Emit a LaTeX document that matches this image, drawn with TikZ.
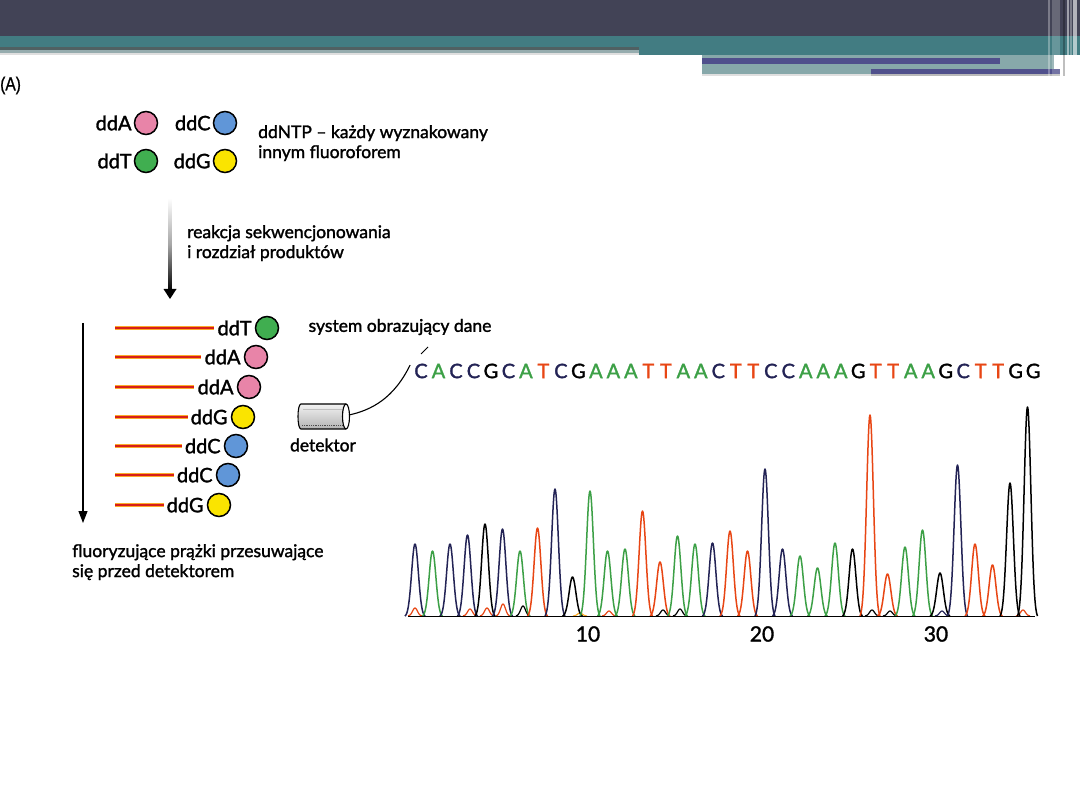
\documentclass[tikz,border=0pt]{standalone}
\usepackage{fontspec}
\setmainfont{Lato}
\newfontfamily\lato[FakeBold=1.5,Ligatures=TeX]{Lato}
\newfontfamily\arialf[FakeBold=1]{Liberation Sans}
\usetikzlibrary{arrows.meta}
\definecolor{hdark}{RGB}{66,67,86}
\definecolor{hteal}{RGB}{66,124,130}
\definecolor{lteal}{RGB}{135,168,170}
\definecolor{hpurp}{RGB}{80,80,140}
\definecolor{gstrA}{RGB}{80,96,98}
\definecolor{gstrB}{RGB}{150,172,174}
\definecolor{pinkc}{RGB}{232,132,168}
\definecolor{bluec}{RGB}{96,150,216}
\definecolor{greenc}{RGB}{64,174,80}
\definecolor{yellowc}{RGB}{250,228,0}
\definecolor{colA}{RGB}{60,160,70}
\definecolor{colT}{RGB}{232,70,20}
\definecolor{colC}{RGB}{35,35,85}
\definecolor{colG}{RGB}{0,0,0}
\definecolor{bandred}{RGB}{215,30,25}
\definecolor{bandorg}{RGB}{250,170,40}
\tikzset{
  lbl/.style={inner sep=0pt, font=\lato\fontsize{17.5}{20}\selectfont},
  ddl/.style={inner sep=0pt, font=\lato\fontsize{20}{20}\selectfont},
  multi/.style={inner sep=0pt, align=left, font=\lato\fontsize{17.5}{20}\selectfont},
  dot/.style={circle, draw=black, line width=1.5pt, minimum size=23pt, inner sep=0pt},
  bandO/.style={bandorg, line width=3.6pt},
  bandR/.style={bandred, line width=1.8pt},
  seqc/.style={inner sep=0pt, font=\lato\fontsize{20}{20}\selectfont},
  axl/.style={inner sep=0pt, font=\lato\fontsize{21}{21}\selectfont},
  peak/.style={line width=1.5pt, line join=round},
}
\begin{document}
\begin{tikzpicture}[x=1pt,y=-1pt]
\useasboundingbox (0,0) rectangle (1080,810);
\fill[white] (0,0) rectangle (1080,810);
% header
\fill[hdark] (0,0) rectangle (1080,36);
\fill[hteal] (0,36) rectangle (1080,47);
\fill[hteal] (639,47) rectangle (1080,55);
\fill[gstrA] (0,47) rectangle (639,50);
\fill[gstrB] (0,50) rectangle (639,53);
\fill[gray!25] (0,53) rectangle (639,55);
\fill[lteal] (702,55) rectangle (1054,74);
\fill[hpurp] (702,58) rectangle (1000,64);
\fill[hpurp] (871,69) rectangle (1060,74);
\fill[gray!55] (871,74) rectangle (1060,76);
\fill[gray!25] (702,74) rectangle (871,76);
\fill[white,opacity=0.3] (1048,0) rectangle (1049.5,76);
\fill[white,opacity=0.2] (1052,0) rectangle (1060,76);
\fill[black,opacity=0.25] (1063,0) rectangle (1065,76);
\fill[white,opacity=0.5] (1067,0) rectangle (1069,76);
\fill[white,opacity=0.3] (1070,0) rectangle (1072,76);
\fill[white,opacity=0.6] (1073,0) rectangle (1077,76);
\node[anchor=west, inner sep=0pt, xscale=0.82, font=\arialf\fontsize{19}{19}\selectfont] (lblA) at (0,85.5) {(A)};

% legend
\node[dot, fill=pinkc] (cA) at (146,123) {};
\node[dot, fill=bluec] (cC) at (225,123) {};
\node[dot, fill=greenc] (cT) at (146,161) {};
\node[dot, fill=yellowc] (cG) at (225,161) {};
\node[ddl, anchor=east] (tA) at ([xshift=-2pt]cA.west) {ddA};
\node[ddl, anchor=east] (tC) at ([xshift=-2pt]cC.west) {ddC};
\node[ddl, anchor=east] (tT) at ([xshift=-2pt]cT.west) {ddT};
\node[ddl, anchor=east] (tG) at ([xshift=-2pt]cG.west) {ddG};
\node[multi, anchor=north west] (ddntp) at (258,125) {ddNTP – każdy wyznakowany\\innym fluoroforem};

% gradient arrow
\coordinate (gtop) at (170,198);
\coordinate (gbot) at (170,299);
\shade[top color=white, bottom color=black, middle color=gray!70] (168.5,198) rectangle (171.5,291);
\fill[black] (163.5,289) -- (176.5,289) -- (gbot) -- cycle;
\node[multi, anchor=north west] (reak) at (187,225) {reakcja sekwencjonowania\\i rozdział produktów};

% migration arrow
\coordinate (m1) at (83,323);
\coordinate (m2) at (83,523);
\draw[line width=1.2pt, -{Triangle[length=12pt,width=9pt]}] (m1) -- (m2);

% bands
\foreach \n/\x/\y/\c/\t in {1/267/328/greenc/ddT, 2/256/357/pinkc/ddA, 3/249/387/pinkc/ddA, 4/243/417/yellowc/ddG, 5/236/446/bluec/ddC, 6/228/475/bluec/ddC, 7/219/505/yellowc/ddG}{
  \node[dot, fill=\c] (b\n) at (\x,\y) {};
  \node[ddl, anchor=east] (bt\n) at ([xshift=-3pt]b\n.west) {\t};
  \coordinate (bs\n) at (115,\y);
  \draw[bandO] (bs\n) -- ([xshift=-3pt]bt\n.west);
  \draw[bandR] (bs\n) -- ([xshift=-3pt]bt\n.west);
}
\node[multi, anchor=north west] (fluo) at (72,544) {fluoryzujące prążki przesuwające\\się przed detektorem};

% detector
\shade[top color=gray!10, bottom color=gray!60] (346,404) -- (301,404) .. controls (297,404) and (297,429) .. (301,429) -- (346,429) -- cycle;
\draw[gray!60!black, line width=1.6pt, dash pattern=on 1pt off 0.8pt] (302,425.5) -- (343,425.5);
\draw[gray!50, line width=0.8pt] (303,409) -- (343,409);
\draw[line width=1.1pt] (346,404) -- (301,404) .. controls (297,404) and (297,429) .. (301,429) -- (346,429);
\draw[line width=1.1pt, fill=white] (346,416.5) ellipse (3.5pt and 12.5pt);
\coordinate (detR) at (349,415);
\node[lbl] (detl) at (323,445) {detektor};

% sequence
\foreach \l [count=\i] in {C,A,C,C,G,C,A,T,C,G,A,A,A,T,T,A,A,C,T,T,C,C,A,A,A,G,T,T,A,A,G,C,T,T,G,G}{
  \node[seqc, text=col\l] (s\i) at ({421+17.49*(\i-1)},371) {\l};
}
\draw[line width=1.1pt] (detR) .. controls (372,410) and (394,398) .. ([xshift=-4pt,yshift=6pt]s1.west);
\node[lbl] (sysl) at (400,327) {system obrazujący dane};
\coordinate (sl1) at (421,354);
\coordinate (sl2) at (428,347);
\draw[line width=1pt] (sl1) -- (sl2);

% chromatogram small bumps
\foreach \xx/\h/\c in {415/8/colT, 470/7/colT, 487/8/colT, 503/12/colT, 523/10/colG, 580/3/bandorg, 609/5/colT, 663/6/colG, 680/7/colG, 872/6/colG, 890/5/colG, 942/5/colC, 1023/6/colT}{
  \draw[line width=1.2pt, \c] plot[domain=-7:7, samples=21, smooth] ({\xx+\x},{616-\h*exp(-(\x*\x)/12)});
}
% peaks
\foreach \i/\h/\c in {1/72/colC, 2/65/colA, 3/72/colC, 4/81/colC, 5/92/colG, 6/87/colC, 7/65/colA, 8/88/colT, 9/127/colC, 10/39/colG, 11/125/colA, 12/65/colA, 13/67/colA, 14/105/colT, 15/54/colT, 16/80/colA, 17/72/colA, 18/73/colC, 19/85/colT, 20/65/colT, 21/147/colC, 22/67/colC, 23/60/colA, 24/48/colA, 25/73/colA, 26/67/colG, 27/201/colT, 28/42/colT, 29/69/colA, 30/86/colA, 31/43/colG, 32/151/colC, 33/72/colT, 34/51/colT, 35/133/colG, 36/209/colG}{
  \draw[peak, \c] plot[domain=-10:10, samples=41, smooth] ({415+17.5*(\i-1)+\x},{616-\h*(exp(-(\x*\x)/23)-0.013)/0.987});
}
\draw[line width=1.6pt] (408,616.5) -- (1035,616.5);
\node[axl] (ax10) at (588,634) {10};
\node[axl] (ax20) at (762,634) {20};
\node[axl] (ax30) at (936,634) {30};
\end{tikzpicture}
\end{document}
